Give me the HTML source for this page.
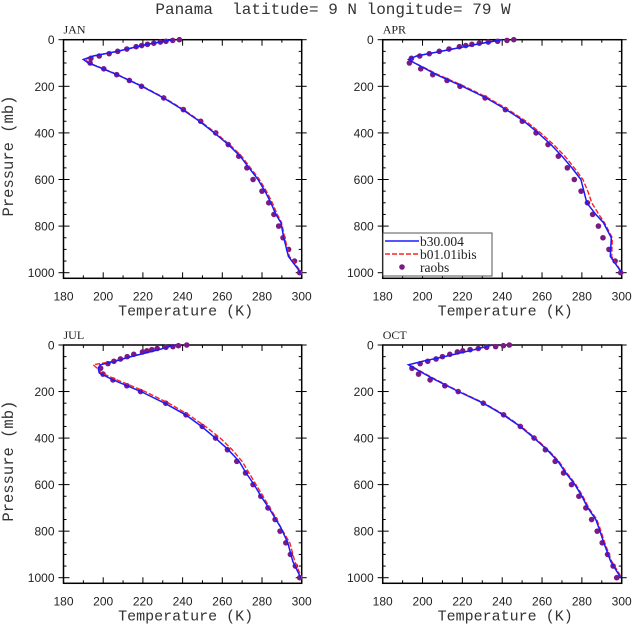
<!DOCTYPE html>
<html><head><meta charset="utf-8"><style>
body{margin:0;background:#fff}
svg text{font-family:"Liberation Sans",sans-serif}
</style></head><body>
<svg id="chart" width="633" height="629" viewBox="0 0 633 629" xmlns="http://www.w3.org/2000/svg">
<text x="333" y="14" text-anchor="middle" font-size="16" fill="#333" xml:space="preserve" style="font-family:'Liberation Mono',monospace;white-space:pre">Panama  latitude= 9 N longitude= 79 W</text>
</svg>
<script>
const months = ["JAN","APR","JUL","OCT"];
const obsLevels = [0,3,7,10,15,20,25,30,40,50,60,70,80,100,125,150,175,200,250,300,350,400,450,500,550,600,650,700,750,800,850,900,950,1000];
const obsJAN = [238.4,235,231.6,228.8,225.5,222.3,219.4,216.6,211.9,207.3,203,198,193.8,193.4,200.3,206.8,213.2,219.3,230.5,240.4,249.1,256.7,263,268.3,272.4,275.5,280,283.4,286,288.4,290.6,293.4,296.4,299];
const obsAPR = [245.8,242.4,237.7,233,228.5,224.8,221.7,218.5,213.3,208.4,203.4,198.6,194.4,193.4,199.1,205.1,212.3,218.8,231.4,241.6,250.1,257,263,268.2,272.7,276.2,279.6,282.8,285.4,288.3,290.6,293.6,296.7,299.5];
const obsJUL = [242.1,237.9,235.1,231.6,227.2,224.5,222,219.8,215.4,212.1,208.7,205.4,202.4,198.7,199.9,204.9,211.9,218.8,231.5,241.7,249.9,256.6,262.6,267.3,271.7,275.5,279.4,283,286.6,289.1,292,294.3,296.8,299];
const obsOCT = [243.6,240.6,236.7,232.2,228,223.9,220.2,217.5,213.7,210,206.8,202.6,198.8,194.7,198,203.8,211.2,217.9,230.5,240.7,249.1,256,261.7,266.6,270.8,274.8,278.5,282,284.9,287.7,290.2,292.9,295.7,297.5];
const modelLevels = [0,20,50,70,85,100,120,150,200,250,300,350,400,450,500,550,600,650,700,750,785,850,930,1000];
const blueJAN = [235,222,207,195,190,192.5,198.5,207,219.5,230.5,240,248.5,256,263,269,273.5,278,281.5,284.5,287,289.5,291,293.3,299.5];
const redJAN  = [235,222,207,195,191,193,198.8,207.3,219.8,231,240.5,249,256.7,263.7,269.7,274.2,278.7,282.2,285.2,287.7,289.8,291.5,293.8,300];
const blueAPR = [240,227,209,197,193,196,200.5,207,220,232,242,251,258,264.5,270,275,279.5,281,282.5,287,290.8,294.8,294.3,300];
const redAPR  = [240,227,209,197,193,196,201,207.8,221,233,243,252,259.3,265.8,271.5,276.2,280.5,283,285,288.5,291.3,295.3,295,300];
const blueJUL = [236,228,214,206,198.5,197.5,198,205,219,231,241.5,249.5,256.5,263,268.5,272,276,279.5,283.5,287,289.5,293,295.5,299.5];
const redJUL  = [236,228,214,205,195,197,199,207,221,233,243,251.5,259,265,270,273.5,277,280.5,284,287.5,289.5,294,296.5,300];
const blueOCT = [235,226,211,200,193,196,200,206.5,218,230.5,240.5,249,256,262.5,268,272,276.5,280,283,287,288.5,291,294.5,299.5];
const redOCT  = [235,226,211,200,193,196.3,200.5,207,218.5,231,241,249.5,256.5,263,268.5,272.5,277,280.5,283.5,287.5,289,291.5,295,300];
const xTicks = [180,200,220,240,260,280,300];
const yTicks = [0,200,400,600,800,1000];

const obsAll = [obsJAN,obsAPR,obsJUL,obsOCT];
const blueAll = [blueJAN,blueAPR,blueJUL,blueOCT];
const redAll = [redJAN,redAPR,redJUL,redOCT];
const panels = [{x0:63.5,x1:301.7,y0:39.7,y1:272.7},{x0:382.7,x1:621.7,y0:39.7,y1:272.7},
                {x0:63.5,x1:301.7,y0:345,y1:577.7},{x0:382.7,x1:621.7,y0:345,y1:577.7}];
const NS="http://www.w3.org/2000/svg";
const svg=document.getElementById('chart');
function mk(tag,attrs,parent){const e=document.createElementNS(NS,tag);for(const k in attrs)e.setAttribute(k,attrs[k]);(parent||svg).appendChild(e);return e;}
const MONO="font-family:'Liberation Mono',monospace";

panels.forEach((P,i)=>{
  const xs=t=>P.x0+(t-180)/120*(P.x1-P.x0);
  const ys=p=>P.y0+p/1000*(P.y1-P.y0);
  const yb=ys(1024);
  const g=mk('g',{});
  
  
  const fr=mk('rect',{x:P.x0,y:P.y0,width:P.x1-P.x0,height:yb-P.y0,fill:'none',stroke:'#000','stroke-width':1.5},g);
  
  
  for(let t=180;t<=300;t+=10){const x=xs(t);const L=(t%20===0)?6:3;
    mk('line',{x1:x,x2:x,y1:P.y0,y2:P.y0+L,stroke:'#000','stroke-width':1},g);
    mk('line',{x1:x,x2:x,y1:yb,y2:yb-L,stroke:'#000','stroke-width':1},g);}
  for(let p=0;p<=1000;p+=50){const y=ys(p);const maj=p%200===0;const L=maj?6:3;
    mk('line',{x1:P.x0-(maj?5:0),x2:P.x0+L,y1:y,y2:y,stroke:'#000','stroke-width':1},g);
    mk('line',{x1:P.x1+(maj?5:0),x2:P.x1-L,y1:y,y2:y,stroke:'#000','stroke-width':1},g);}
  xTicks.forEach(t=>{const tx=mk('text',{x:xs(t),y:yb+22,'text-anchor':'middle','font-size':12,fill:'#222'},g);tx.textContent=t;
    
    });
  yTicks.forEach(p=>{const tx=mk('text',{x:P.x0-9,y:ys(p)+4.5,'text-anchor':'end','font-size':12,fill:'#222'},g);tx.textContent=p;
    
    });
  const xt=mk('text',{x:(P.x0+P.x1)/2+3,y:yb+37,'text-anchor':'middle','font-size':15,fill:'#333',style:MONO},g);xt.textContent='Temperature (K)';
  
  
  if(i%2===0){const yt=mk('text',{x:0,y:0,'text-anchor':'middle','font-size':15.5,fill:'#333',style:MONO,transform:`translate(13,${(P.y0+yb)/2-3}) rotate(-90)`},g);yt.textContent='Pressure (mb)';
    
    }
  const mt=mk('text',{x:P.x0,y:P.y0-6,'font-size':12,fill:'#222',style:"font-family:'Liberation Serif',serif"},g);mt.textContent=months[i];
  
  
  obsAll[i].forEach((t,k)=>{const c=mk('circle',{cx:xs(t),cy:ys(obsLevels[k]),r:2.8,fill:'#7b1a85'},g);
    
    });
  const pts=arr=>arr.map((t,k)=>xs(t).toFixed(1)+','+ys(modelLevels[k]).toFixed(1)).join(' ');
  const r=mk('polyline',{points:pts(redAll[i]),fill:'none',stroke:'#ff2020','stroke-width':1.4,'stroke-dasharray':'5,2'},g);
  
  
  const b=mk('polyline',{points:pts(blueAll[i]),fill:'none',stroke:'#1a1aff','stroke-width':1.5},g);
  
  
});
const lg=mk('g',{});


mk('rect',{x:383,y:233,width:109,height:43,fill:'#fff',stroke:'#555','stroke-width':1},lg);
const ents=[['b30.004','#1a1aff','none'],['b01.01ibis','#ff2020','5,2'],['raobs','#7b1a85',null]];
ents.forEach((e,k)=>{const y=241+k*13;
  if(e[2]!==null){const l=mk('line',{x1:385,x2:419,y1:y,y2:y,stroke:e[1],'stroke-width':1.5,'stroke-dasharray':e[2]},lg);
    
    }
  else{const c=mk('circle',{cx:402,cy:y,r:2.8,fill:e[1]},lg);
    
    }
  const t=mk('text',{x:420,y:y+5,'font-size':13.5,fill:'#222',style:"font-family:'Liberation Serif',serif"},lg);t.textContent=e[0];
  
  });
</script>
</body></html>
